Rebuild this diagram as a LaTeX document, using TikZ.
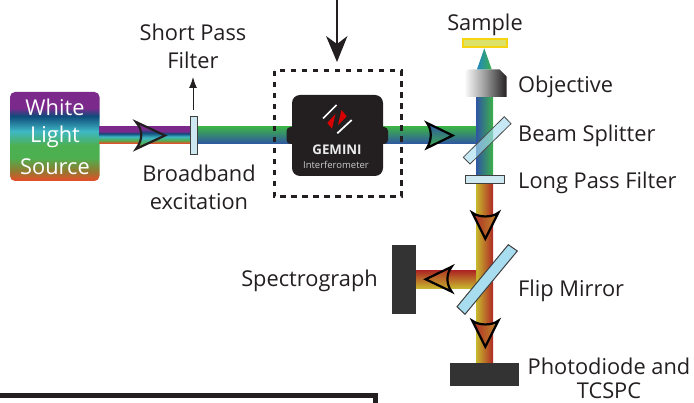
\documentclass[tikz,border=0pt]{standalone}
\usepackage{fontspec}
\setmainfont{Open Sans}
\usetikzlibrary{arrows.meta}
\definecolor{ink}{HTML}{231F20}
\definecolor{block}{HTML}{333333}
\definecolor{glass}{HTML}{CDE8F0}
\definecolor{mirror}{HTML}{A8DDF0}
\definecolor{bgreen}{HTML}{3CB04A}
\definecolor{bblue}{HTML}{2F55A4}
\definecolor{byel}{HTML}{C8B82E}
\definecolor{bred}{HTML}{AE2A24}
\definecolor{spO}{HTML}{E2502A}
\definecolor{spL}{HTML}{8E7C30}
\definecolor{spG}{HTML}{4DB050}
\definecolor{spT}{HTML}{3EB7C4}
\definecolor{spB}{HTML}{0F4B7B}
\definecolor{spP}{HTML}{7B2A8C}
\definecolor{samedge}{HTML}{F5D50F}
\definecolor{samfill}{HTML}{DDE36A}
\pgfdeclareverticalshading{srcshade}{100bp}{
 color(0bp)=(spO);
 color(25.5bp)=(spO);
 color(31bp)=(spL);
 color(38bp)=(spG);
 color(45bp)=(spG);
 color(53bp)=(spT);
 color(61.5bp)=(spB);
 color(66bp)=(spP);
 color(100bp)=(spP)}
\pgfdeclareverticalshading{whiteshade}{100bp}{
 color(0bp)=(spO);
 color(26bp)=(spO);
 color(35bp)=(spG);
 color(46bp)=(spT);
 color(55bp)=(spB);
 color(62bp)=(spP);
 color(100bp)=(spP)}
\tikzset{
 x=1pt,y=-1pt,
 lbl/.style={font=\fontsize{21.8}{24}\selectfont,text=ink,inner sep=0pt},
 srctext/.style={font=\fontsize{21.8}{24}\selectfont,text=white,inner sep=0pt},
 glassbox/.style={draw=black!75,line width=1pt,fill=glass},
 hollow/.style={draw=black,line width=2.2pt,line join=miter},
 blockbox/.style={fill=block,draw=none}
}
\begin{document}
\begin{tikzpicture}
\useasboundingbox (0,0) rectangle (694,403);
% source
\shade[shading=srcshade,rounded corners=5pt] (10,92) rectangle (99.5,181);
\node[srctext] (t1) at (55,107) {White};
\node[srctext] (t2) at (55,137) {Light};
\node[srctext] (t3) at (55,167) {Source};
% beams
\shade[shading=whiteshade] (99,127) rectangle (190,143.5);
\shade[bottom color=bblue,top color=bgreen] (197,127) rectangle (478,144);
\shade[left color=bblue,right color=bgreen] (476,97) rectangle (493,177);
\shade[left color=byel,right color=bred] (476,184) rectangle (493,363);
\shade[top color=bred,bottom color=byel] (416,271) rectangle (476,288.5);
% short pass
\node[glassbox,minimum width=7pt,minimum height=38pt,inner sep=0pt] (spf) at (193.7,135.5) {};
\coordinate (spfup) at (193,77);
\draw[line width=1pt,-{Latex[length=11pt,width=8pt]},draw=ink] (193,110) -- (spfup);
% big arrow
\coordinate (bigtop) at (337,0);
\coordinate (bigtip) at (337,62);
\draw[ink,line width=2.4pt] (bigtop) -- (337,45);
\fill[ink] (bigtip) -- (326,36) -- (337,44) -- (347.5,36) -- cycle;
% gemini
\draw[ink,line width=3pt,dash pattern=on 5.5pt off 5.5pt] (274,71) rectangle (401,197);
\fill[ink,rounded corners=4pt] (286.5,127) rectangle (388,144);
\node[fill=ink,rounded corners=8pt,minimum width=91pt,minimum height=81pt,inner sep=0pt] (gem) at (337.5,135.5) {};
\fill[red!85!black] (327.3,123) -- (335.5,114) -- (332,128.7) -- cycle;
\fill[red!85!black] (341.5,110) -- (346.7,116.3) -- (338,125) -- cycle;
\draw[white,line width=1.7pt] (323,118.5) -- (336.5,105);
\draw[white,line width=1.7pt] (337.3,133.3) -- (351.7,120);
\node[font=\bfseries\fontsize{13.3}{15}\selectfont,text=white!92!black,inner sep=0pt] (gl) at (337,150) {GEMINI};
\node[font=\fontsize{9.5}{11}\selectfont,text=white!80!black,inner sep=0pt] (il) at (336,164.5) {Interferometer};
% splitter
\fill[mirror,opacity=.65] (504.3,116.7) -- (511,123.7) -- (470,164) -- (463.3,157.3) -- cycle;
\draw[black!70,line width=.8pt] (504.3,116.7) -- (511,123.7) -- (470,164) -- (463.3,157.3) -- cycle;
% long pass
\node[glassbox,minimum width=39pt,minimum height=8pt,inner sep=0pt] (lpf) at (484.5,180) {};
% objective
\shade[left color=white,right color=ink,middle color=black!40] (468,69.3) -- (499.3,69.3) -- (506.7,76.7) -- (506.7,97) -- (464,97) -- (464,75) -- cycle;
\shade[left color=bblue!70!cyan,right color=bgreen] (484.3,48.3) -- (491.7,69.3) -- (477,69.3) -- cycle;
\node[draw=samedge,line width=2pt,fill=samfill,minimum width=44pt,minimum height=8pt,inner sep=0pt] (sam) at (484.5,43.2) {};
% flip mirror
\draw[black!75,line width=1pt,fill=mirror] (508.3,244.7) -- (517.3,251) -- (465,314.3) -- (457,306.7) -- cycle;
% blocks
\node[blockbox,minimum width=24pt,minimum height=69pt,inner sep=0pt] (spec) at (404,279.5) {};
\node[blockbox,minimum width=69pt,minimum height=23.5pt,inner sep=0pt] (pd) at (484.5,374.7) {};
% beam arrows
\shade[top color=bblue,bottom color=bgreen] (427,123) .. controls (432,130) and (432,140) .. (427,148) -- (452.7,135.5) -- cycle;
\draw[hollow] (427,123) .. controls (432,130) and (432,140) .. (427,148) -- (452.7,135.5) -- cycle;
\shade[shading=whiteshade] (136,122) .. controls (143,130) and (143,140) .. (136,149) -- (165,135.5) -- cycle;
\draw[hollow,draw=ink] (136,122) .. controls (143,130) and (143,140) .. (136,149) -- (165,135.5) -- cycle;
\foreach \yy in {212.7,320.7}{
 \shade[left color=bred,right color=byel!70!bred] (472.3,\yy) .. controls (479,\yy+5) and (492,\yy+5) .. (498.3,\yy) -- (485.3,\yy+26) -- cycle;
 \draw[hollow] (472.3,\yy) .. controls (479,\yy+5) and (492,\yy+5) .. (498.3,\yy) -- (485.3,\yy+26) -- cycle;
}
\shade[top color=bred,bottom color=byel] (451.7,266.7) .. controls (446,274) and (446,284) .. (451.7,291.7) -- (425.7,279.3) -- cycle;
\draw[hollow] (451.7,266.7) .. controls (446,274) and (446,284) .. (451.7,291.7) -- (425.7,279.3) -- cycle;
% labels
\node[lbl] (lsam) at (485,25) {Sample};
\node[lbl,anchor=west] (lobj) at (518,86.5) {Objective};
\node[lbl,anchor=west] (lbs) at (518,135.5) {Beam Splitter};
\node[lbl,anchor=west] (llp) at (518,182.5) {Long Pass Filter};
\node[lbl,anchor=west] (lfm) at (518,291) {Flip Mirror};
\node[lbl,anchor=east] (lspec) at (378,281) {Spectrograph};
\node[lbl] (lpd) at (609,366) {Photodiode and};
\node[lbl] (ltc) at (609,391) {TCSPC};
\node[lbl] (lsp) at (193,32) {Short Pass};
\node[lbl] (lsf) at (193,60) {Filter};
\node[lbl] (lbb) at (199,173) {Broadband};
\node[lbl] (lex) at (199,202) {excitation};
% bottom frame
\draw[ink,line width=4.6pt] (0,395.5) -- (375.5,395.5) -- (375.5,405);
\end{tikzpicture}
\end{document}
